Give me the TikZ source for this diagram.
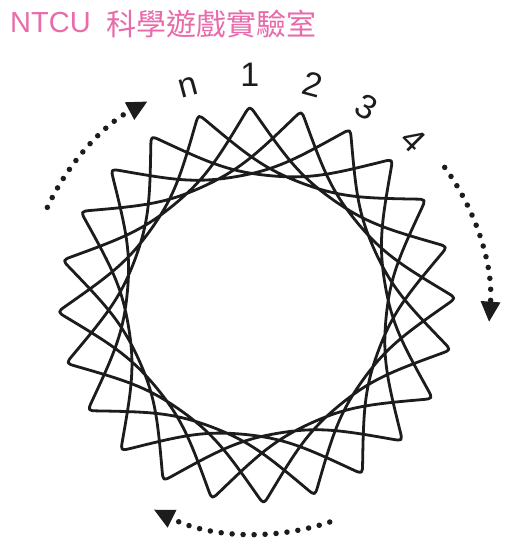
\documentclass[tikz,border=0pt]{standalone}
\usepackage{fontspec}
\setmainfont{Liberation Sans}
\newfontfamily\cjkfont{Noto Sans CJK TC}
\usetikzlibrary{arrows.meta}
\definecolor{titlepink}{RGB}{232,108,170}
\definecolor{ink}{RGB}{28,28,28}
\begin{document}
\begin{tikzpicture}[x=1pt,y=1pt,
  spiro/.style={draw=ink, line width=2.8pt, line join=round},
  lbl/.style={font=\fontsize{34}{34}\selectfont, text=ink, inner sep=0pt},
  ttl/.style={text=titlepink, inner sep=0pt, anchor=west},
  dotarc/.style={draw=ink, line width=5.5pt, line cap=round, dash pattern=on 0pt off 11pt,
     -{Triangle[length=20pt,width=20pt,line width=0pt]}}]
\useasboundingbox (0,0) rectangle (520,551);
\fill[white] (0,0) rectangle (520,551);
% title
\node[ttl, font=\fontsize{29}{29}\selectfont] (t1) at (10,528) {NTCU};
\node[ttl, font=\cjkfont\fontsize{30}{30}\selectfont] (t2) at (106,527) {科學遊戲實驗室};
\coordinate (c) at (256.7,246);
\begin{scope}[shift={(c)}]
  \begin{scope}[rotate=2]
    \draw[spiro] ({199.5+11*cos(147)},{11*sin(147)})
      \foreach \i [evaluate=\i as \a using \i*75] in {0,...,23} {
        .. controls ({199.5*cos(\a)+64*cos(\a+147)},{199.5*sin(\a)+64*sin(\a+147)})
           and ({130*cos(\a+37.5)+40*cos(\a-52.5)},{130*sin(\a+37.5)+40*sin(\a-52.5)})
        .. ({130*cos(\a+37.5)},{130*sin(\a+37.5)})
        .. controls ({130*cos(\a+37.5)+40*cos(\a+127.5)},{130*sin(\a+37.5)+40*sin(\a+127.5)})
           and ({199.5*cos(\a+75)+64*cos(\a+288)},{199.5*sin(\a+75)+64*sin(\a+288)})
        .. ({199.5*cos(\a+75)+11*cos(\a+288)},{199.5*sin(\a+75)+11*sin(\a+288)})
        .. controls ({199.5*cos(\a+75)},{199.5*sin(\a+75)}) and ({199.5*cos(\a+75)},{199.5*sin(\a+75)})
        .. ({199.5*cos(\a+75)+11*cos(\a+222)},{199.5*sin(\a+75)+11*sin(\a+222)})
      } -- cycle;
  \end{scope}
  % labels
  \node[lbl, rotate=15]  (ln) at (107.6:228) {n};
  \node[lbl]             (l1) at (91.7:230) {1};
  \node[lbl, rotate=-15] (l2) at (75.7:228) {2};
  \node[lbl, rotate=-30] (l3) at (61:226) {3};
  \node[lbl, rotate=-45] (l4) at (46.5:227) {4};
  % rotation arrows
  \draw[dotarc] (155:231) arc[start angle=155, end angle=118.3, radius=231];
  \draw[dotarc] (36.2:233) arc[start angle=36.2, end angle=-4.1, radius=233];
  \draw[dotarc] (-71.4:229) arc[start angle=-71.4, end angle=-116.6, radius=229];
\end{scope}
\end{tikzpicture}
\end{document}
